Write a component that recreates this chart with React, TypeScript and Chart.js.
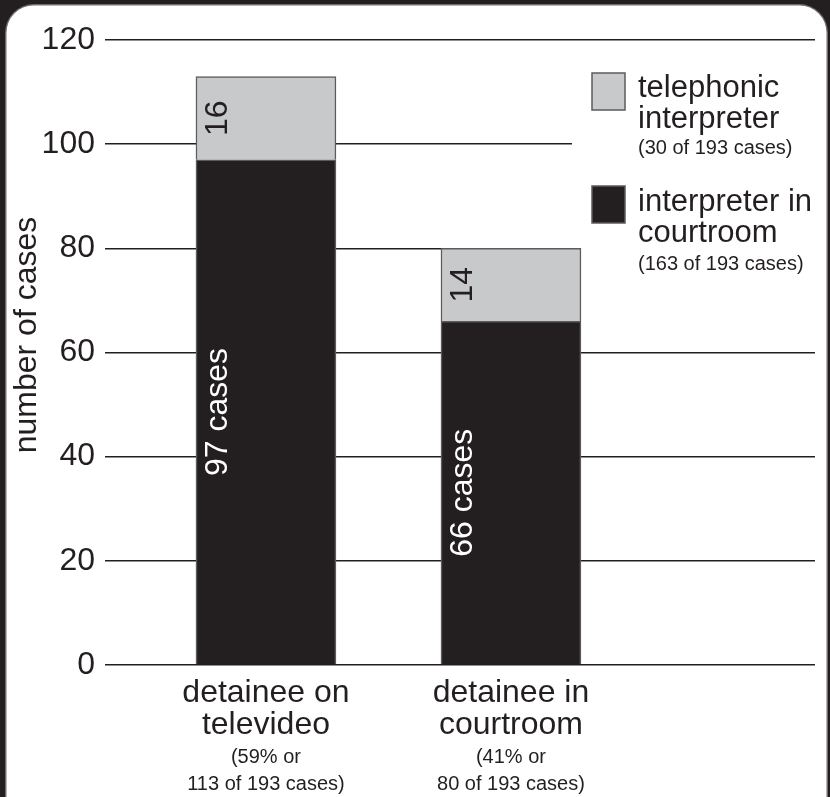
import React, { useEffect, useRef } from 'react';
import { Chart, registerables } from 'chart.js';

Chart.register(...registerables);

// ---- data ----
const categoryLines: string[][] = [
  ['detainee on', 'televideo'],
  ['detainee in', 'courtroom'],
];
const categoryNotes: string[][] = [
  ['(59% or', '113 of 193 cases)'],
  ['(41% or', '80 of 193 cases)'],
];
const courtroomInterpreter = [97, 66];
const telephonicInterpreter = [16, 14];
const courtroomLabels = ['97 cases', '66 cases'];
const telephonicLabels = ['16', '14'];
const legendTitles: string[][] = [
  ['telephonic', 'interpreter'],
  ['interpreter in', 'courtroom'],
];
const legendNotes = ['(30 of 193 cases)', '(163 of 193 cases)'];
const yAxisTitle = 'number of cases';
const yMin = 0;
const yMax = 120;
const yStep = 20;

// ---- styles ----
const FONT = "'Liberation Sans', Arial, Helvetica, sans-serif";
const INK = '#231f20';
const DARK = '#231f20';
const LIGHT = '#c8c9cb';
const EDGE = '#5b5b5d';

const framePlugin = {
  id: 'frame',
  beforeDraw(chart: any) {
    const { ctx, width, height } = chart;
    ctx.save();
    ctx.fillStyle = INK;
    ctx.fillRect(0, 0, width, height);
    ctx.fillStyle = '#6d6d6f';
    ctx.beginPath();
    ctx.roundRect(5, 4, 823, 830, 29);
    ctx.fill();
    ctx.fillStyle = '#ffffff';
    ctx.beginPath();
    ctx.roundRect(6.5, 5.5, 820, 826, 27);
    ctx.fill();
    ctx.restore();
  },
};

const maskPlugin = {
  id: 'legendMask',
  beforeDatasetsDraw(chart: any) {
    const { ctx } = chart;
    ctx.save();
    ctx.fillStyle = '#ffffff';
    ctx.fillRect(572, 50, 254, 250);
    ctx.restore();
  },
};

const barLabelPlugin = {
  id: 'barLabels',
  afterDatasetsDraw(chart: any) {
    const { ctx } = chart;
    const sets = [
      { idx: 0, labels: courtroomLabels, color: '#ffffff' },
      { idx: 1, labels: telephonicLabels, color: INK },
    ];
    ctx.save();
    ctx.font = `32px ${FONT}`;
    ctx.textAlign = 'center';
    ctx.textBaseline = 'middle';
    sets.forEach((s) => {
      const meta = chart.getDatasetMeta(s.idx);
      meta.data.forEach((el: any, i: number) => {
        const p = el.getProps(['x', 'y', 'base', 'width'], true);
        const x = p.x - p.width / 2 + 22;
        const y = (p.y + p.base) / 2;
        ctx.save();
        ctx.translate(x, y);
        ctx.rotate(-Math.PI / 2);
        ctx.fillStyle = s.color;
        ctx.fillText(s.labels[i], 0, 0);
        ctx.restore();
      });
    });
    ctx.restore();
  },
};

const annotationPlugin = {
  id: 'annotations',
  afterDraw(chart: any) {
    const { ctx, chartArea } = chart;
    const xs = chart.scales.x;
    ctx.save();
    ctx.fillStyle = INK;
    // category labels
    ctx.textAlign = 'center';
    ctx.textBaseline = 'alphabetic';
    categoryLines.forEach((lines, i) => {
      const x = xs.getPixelForValue(i);
      ctx.font = `32px ${FONT}`;
      ctx.fillText(lines[0], x, chartArea.bottom + 37);
      ctx.fillText(lines[1], x, chartArea.bottom + 69);
      ctx.font = `20px ${FONT}`;
      ctx.fillText(categoryNotes[i][0], x, chartArea.bottom + 98);
      ctx.fillText(categoryNotes[i][1], x, chartArea.bottom + 125);
    });
    // y axis title
    ctx.save();
    ctx.translate(27, 335);
    ctx.rotate(-Math.PI / 2);
    ctx.font = `32px ${FONT}`;
    ctx.textBaseline = 'middle';
    ctx.fillText(yAxisTitle, 0, 0);
    ctx.restore();
    // legend
    const fills = [LIGHT, DARK];
    const boxTops = [73, 186];
    const titleBases = [
      [97, 128],
      [211, 242],
    ];
    const noteBases = [154, 270];
    ctx.textAlign = 'left';
    ctx.textBaseline = 'alphabetic';
    fills.forEach((f, i) => {
      ctx.fillStyle = f;
      ctx.fillRect(592, boxTops[i], 33, 37);
      ctx.strokeStyle = EDGE;
      ctx.lineWidth = 1.5;
      ctx.strokeRect(592, boxTops[i], 33, 37);
      ctx.fillStyle = INK;
      ctx.font = `31px ${FONT}`;
      ctx.fillText(legendTitles[i][0], 638, titleBases[i][0]);
      ctx.fillText(legendTitles[i][1], 638, titleBases[i][1]);
      ctx.font = `20px ${FONT}`;
      ctx.fillText(legendNotes[i], 638, noteBases[i]);
    });
    ctx.restore();
  },
};

export default function App() {
  const ref = useRef<HTMLCanvasElement | null>(null);

  useEffect(() => {
    if (!ref.current) return;
    Chart.defaults.font.family = FONT;
    const chart = new Chart(ref.current, {
      type: 'bar',
      data: {
        datasets: [
          {
            label: 'interpreter in courtroom',
            data: courtroomInterpreter.map((v, i) => ({ x: i, y: v })),
            backgroundColor: DARK,
            borderColor: EDGE,
            borderWidth: 1.5,
            barThickness: 140,
          },
          {
            label: 'telephonic interpreter',
            data: telephonicInterpreter.map((v, i) => ({ x: i, y: v })),
            backgroundColor: LIGHT,
            borderColor: EDGE,
            borderWidth: 1.5,
            barThickness: 140,
          },
        ],
      },
      options: {
        responsive: false,
        animation: false,
        devicePixelRatio: 1,
        layout: { padding: { top: 40, right: 15, bottom: 132, left: 0 } },
        plugins: {
          legend: { display: false },
          tooltip: { enabled: false },
        },
        scales: {
          x: {
            type: 'linear',
            min: -0.657,
            max: 2.241,
            offset: false,
            stacked: true,
            display: false,
          },
          y: {
            stacked: true,
            min: yMin,
            max: yMax,
            ticks: {
              stepSize: yStep,
              color: INK,
              font: { size: 32, family: FONT },
              padding: 10,
            },
            grid: { color: INK, lineWidth: 1.5, drawTicks: false },
            border: { display: false },
            afterFit: (s: any) => {
              s.width = 105;
            },
          },
        },
      } as any,
      plugins: [framePlugin, maskPlugin, barLabelPlugin, annotationPlugin],
    });
    return () => chart.destroy();
  }, []);

  return (
    <div style={{ position: 'fixed', left: 0, top: 0, width: 830, height: 797 }}>
      <canvas ref={ref} width={830} height={797} style={{ display: 'block' }} />
    </div>
  );
}
